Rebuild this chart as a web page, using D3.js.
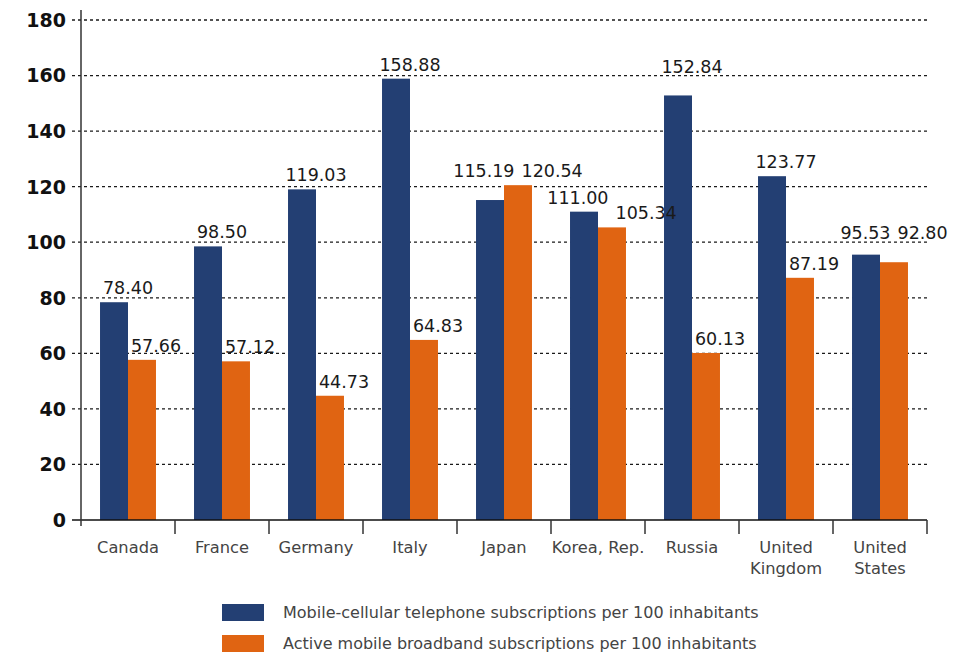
<!DOCTYPE html>
<html>
<head>
<meta charset="utf-8">
<script src="https://cdn.jsdelivr.net/npm/d3@7"></script>
<style>
    body { margin: 0; background: #fff; }
    text { font-family: "DejaVu Sans", sans-serif; }
</style>
</head>
<body>
<div id="chart"></div>
<script>
// data
let countries = ["Canada", "France", "Germany", "Italy", "Japan", "Korea, Rep.", "Russia", "United Kingdom", "United States"];
let countryLines = [["Canada"], ["France"], ["Germany"], ["Italy"], ["Japan"], ["Korea, Rep."], ["Russia"], ["United", "Kingdom"], ["United", "States"]];
let mobileCellular = [78.40, 98.50, 119.03, 158.88, 115.19, 111.00, 152.84, 123.77, 95.53];
let mobileBroadband = [57.66, 57.12, 44.73, 64.83, 120.54, 105.34, 60.13, 87.19, 92.80];
let seriesKeys = ["cellular", "broadband"];
let seriesNames = ["Mobile-cellular telephone subscriptions per 100 inhabitants",
    "Active mobile broadband subscriptions per 100 inhabitants"];
let yTicks = [0, 20, 40, 60, 80, 100, 120, 140, 160, 180];

let colors = ["#233f73", "#e06412"];

let margin = {top: 20, right: 31, bottom: 134, left: 81};
let totalW = 958, totalH = 654;
let width = totalW - margin.left - margin.right;
let height = totalH - margin.top - margin.bottom;

let svg = d3.select("#chart").append("svg")
    .attr("width", totalW)
    .attr("height", totalH)
    .append("g")
    .attr("transform", "translate(" + margin.left + "," + margin.top + ")");

let rows = countries.map((c, i) => ({country: c, lines: countryLines[i], values: [mobileCellular[i], mobileBroadband[i]]}));

// scales
let x0 = d3.scaleBand().domain(countries).range([0, width]).padding(0);
let x1 = d3.scaleBand().domain(seriesKeys).range([0, x0.bandwidth()]).paddingInner(0).paddingOuter(0.68);
let y = d3.scaleLinear().domain([0, 180]).range([height, 0]);

// dashed grid lines
svg.append("g")
    .selectAll("line")
    .data(yTicks.filter(d => d > 0))
    .join("line")
    .attr("x1", -9)
    .attr("x2", width + 3)
    .attr("y1", d => y(d))
    .attr("y2", d => y(d))
    .attr("stroke", "#1a1a1a")
    .attr("stroke-width", 1.3)
    .attr("stroke-dasharray", "3,3");

// y labels
svg.append("g")
    .selectAll("text")
    .data(yTicks)
    .join("text")
    .attr("x", -15)
    .attr("y", d => y(d))
    .attr("dy", "0.36em")
    .attr("text-anchor", "end")
    .attr("font-size", 19)
    .attr("font-weight", "bold")
    .attr("fill", "#111")
    .text(d => d);

// bars
let groups = svg.append("g")
    .selectAll("g")
    .data(rows)
    .join("g")
    .attr("transform", d => "translate(" + x0(d.country) + ",0)");

groups.selectAll("rect")
    .data(d => d.values.map((v, i) => ({key: seriesKeys[i], value: v, idx: i})))
    .join("rect")
    .attr("x", d => x1(d.key))
    .attr("width", x1.bandwidth())
    .attr("y", d => y(d.value))
    .attr("height", d => y(0) - y(d.value))
    .attr("fill", d => colors[d.idx]);

// value labels on their own layer, nudged so they don't hit each other,
// the neighbouring bar or a grid line
let labelLayer = svg.append("g");
let gridY = yTicks.filter(d => d > 0).map(d => y(d));
rows.forEach(d => {
    let labels = d.values.map((v, i) => {
        let t = labelLayer.append("text")
            .attr("text-anchor", "middle")
            .attr("font-size", 17.5)
            .attr("fill", "#1a1a1a")
            .text(v.toFixed(2));
        return {t: t, cx: x0(d.country) + x1(seriesKeys[i]) + x1.bandwidth() / 2 + 14, by: y(v) - 8, w: t.node().getComputedTextLength()};
    });
    let a = labels[0], b = labels[1];
    if (Math.abs(a.by - b.by) < 20) {
        let need = (a.w + b.w) / 2 + 7 - (b.cx - a.cx);
        if (need > 0) {
            a.cx -= need / 2;
            b.cx += need / 2;
        }
    }
    // keep the first label clear of the second bar
    let barLeft = x0(d.country) + x1(seriesKeys[1]);
    if (a.cx + a.w / 2 > barLeft) a.by = Math.min(a.by, y(d.values[1]) - 8);
    labels.forEach(l => {
        gridY.forEach(g => {
            if (g > l.by - 13 && g < l.by - 4) l.by = g - 3;
        });
        l.t.attr("x", l.cx).attr("y", l.by);
    });
});

// x axis
svg.append("line")
    .attr("x1", -9).attr("x2", width)
    .attr("y1", height).attr("y2", height)
    .attr("stroke", "#111").attr("stroke-width", 1.5);

svg.append("g")
    .selectAll("line")
    .data(countries)
    .join("line")
    .attr("x1", d => x0(d) + x0.step())
    .attr("x2", d => x0(d) + x0.step())
    .attr("y1", height)
    .attr("y2", height + 14)
    .attr("stroke", "#333")
    .attr("stroke-width", 1.5);

// y axis line
svg.append("line")
    .attr("x1", 0).attr("x2", 0)
    .attr("y1", -10).attr("y2", height + 6)
    .attr("stroke", "#333").attr("stroke-width", 1.5);

// category labels
svg.append("g")
    .selectAll("text")
    .data(rows)
    .join("text")
    .attr("x", d => x0(d.country) + x0.bandwidth() / 2)
    .attr("y", height + 33)
    .attr("text-anchor", "middle")
    .attr("font-size", 16.3)
    .attr("fill", "#444")
    .selectAll("tspan")
    .data(d => d.lines)
    .join("tspan")
    .attr("x", function () { return d3.select(this.parentNode).attr("x"); })
    .attr("dy", (d, i) => i === 0 ? 0 : 21)
    .text(d => d);

// legend
let legend = svg.append("g")
    .attr("transform", "translate(" + (222 - margin.left) + "," + (604 - margin.top) + ")");

legend.selectAll("rect")
    .data(seriesNames)
    .join("rect")
    .attr("x", 0)
    .attr("y", (d, i) => i * 31)
    .attr("width", 42)
    .attr("height", 17)
    .attr("fill", (d, i) => colors[i]);

legend.selectAll("text")
    .data(seriesNames)
    .join("text")
    .attr("x", 61)
    .attr("y", (d, i) => i * 31 + 14)
    .attr("font-size", 16)
    .attr("fill", "#444")
    .text(d => d);
</script>
</body>
</html>
